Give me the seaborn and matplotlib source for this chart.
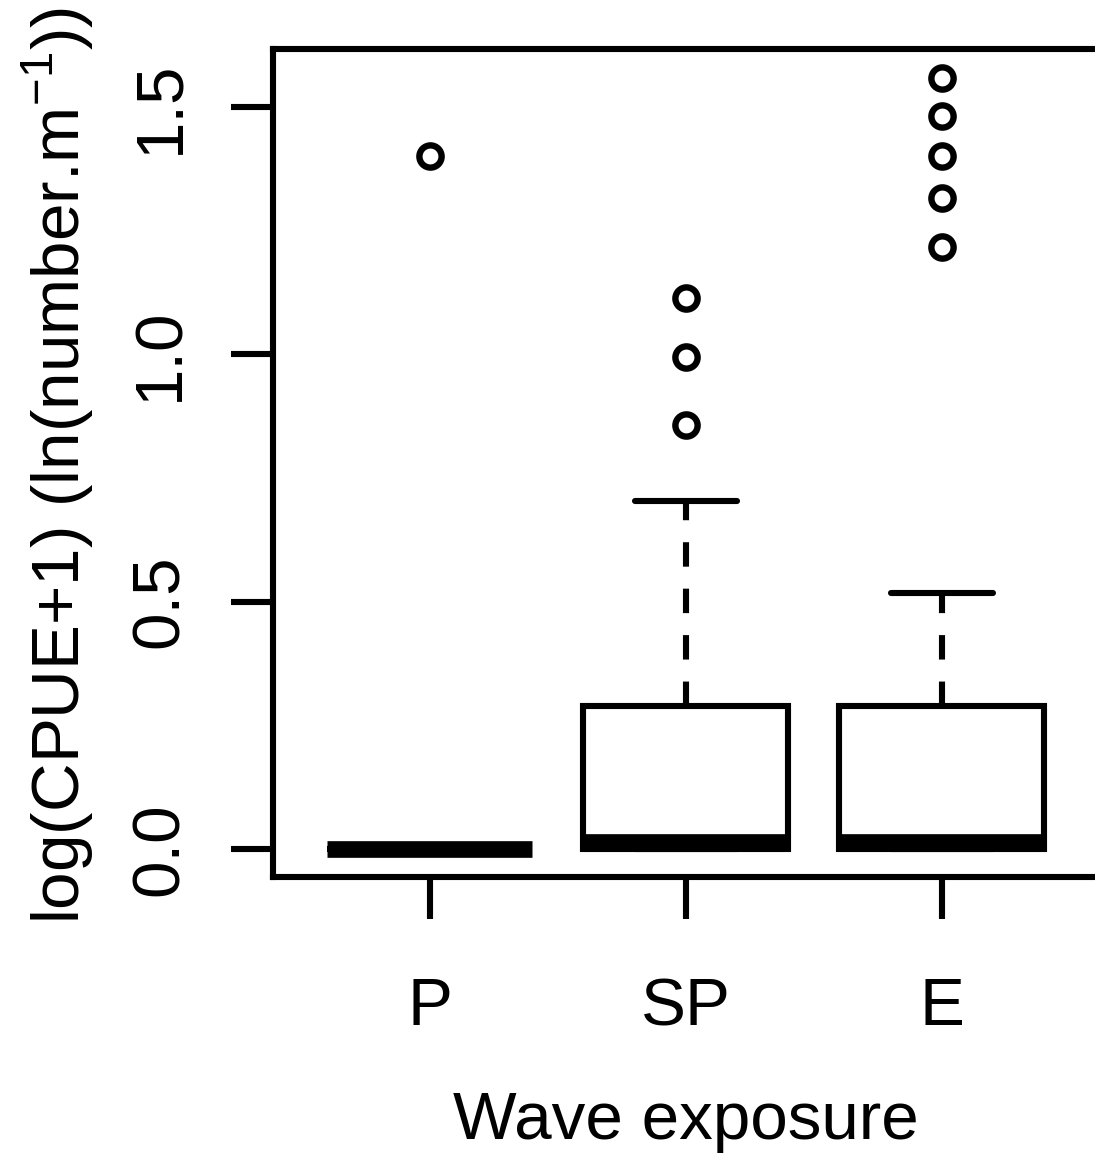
import numpy as np
import pandas as pd
import matplotlib
matplotlib.use("Agg")
import matplotlib.pyplot as plt
import seaborn as sns

# ---- data ----
groups = ["P", "SP", "E"]
p_values = [0.0] * 14 + [1.40]
sp_values = [0.0] * 10 + [0.015, 0.05, 0.10, 0.16, 0.22, 0.29, 0.45, 0.704,
                          0.858, 0.994, 1.113]
e_values = [0.0] * 12 + [0.015, 0.04, 0.08, 0.13, 0.19, 0.25, 0.29, 0.518,
                         1.217, 1.316, 1.401, 1.482, 1.559]
y_ticks = [0.0, 0.5, 1.0, 1.5]
x_label = "Wave exposure"
y_label = r"log(CPUE+1) (ln(number.m$^{\mathregular{-1}}$))"

sns.set_style("ticks")
plt.rcParams["font.family"] = ["Liberation Sans", "DejaVu Sans"]
plt.rcParams["mathtext.fontset"] = "custom"
plt.rcParams["mathtext.rm"] = "Liberation Sans"
plt.rcParams["text.color"] = "black"
plt.rcParams["axes.labelcolor"] = "black"
plt.rcParams["xtick.color"] = "black"
plt.rcParams["ytick.color"] = "black"

df = pd.DataFrame({
    "exposure": ["P"] * len(p_values) + ["SP"] * len(sp_values) + ["E"] * len(e_values),
    "cpue": p_values + sp_values + e_values,
})

W, H = 1095, 1155
fig = plt.figure(figsize=(W / 100, H / 100), dpi=100)
left, right, top, bottom = 272.7, 1099.0, 49.0, 877.0
ax = fig.add_axes([left / W, 1 - bottom / H, (right - left) / W, (bottom - top) / H])

fs = 48.5
lw = 4.4
sns.boxplot(
    data=df, x="exposure", y="cpue", order=groups, ax=ax,
    color="white", linecolor="black", linewidth=lw, width=0.8, whis=1.5,
    fliersize=16, saturation=1,
    medianprops=dict(linewidth=12, color="black", solid_capstyle="butt"),
    whiskerprops=dict(linestyle=(0, (4.0, 3.6)), linewidth=lw, color="black"),
    capprops=dict(linewidth=lw, color="black"),
    boxprops=dict(linewidth=lw, edgecolor="black", facecolor="white"),
    flierprops=dict(marker="o", markerfacecolor="none", markeredgecolor="black",
                    markeredgewidth=4.6, markersize=16),
)

ax.set_xlim(-0.614, 2.614)
ax.set_ylim(-0.0566, 1.617)
ax.set_yticks(y_ticks)
ax.set_yticklabels([f"{v:.1f}" for v in y_ticks], rotation=90, va="center")

for sp in ax.spines.values():
    sp.set_visible(True)
    sp.set_linewidth(lw)
    sp.set_color("black")

ax.tick_params(axis="both", direction="out", length=30, width=lw, color="black",
               labelsize=fs, labelcolor="black", bottom=True, left=True,
               top=False, right=False)
ax.tick_params(axis="x", pad=42)
ax.tick_params(axis="y", pad=28)

ax.set_xlabel(x_label, fontsize=fs, color="black")
ax.set_ylabel(y_label, fontsize=fs, color="black")
ax.xaxis.set_label_coords(686 / W, 1 - 1139 / H, transform=fig.transFigure)
ax.xaxis.label.set_verticalalignment("baseline")
ax.yaxis.set_label_coords(80 / W, 1 - 465 / H, transform=fig.transFigure)
ax.yaxis.label.set_verticalalignment("baseline")

fig.savefig("out.png", dpi=100)
